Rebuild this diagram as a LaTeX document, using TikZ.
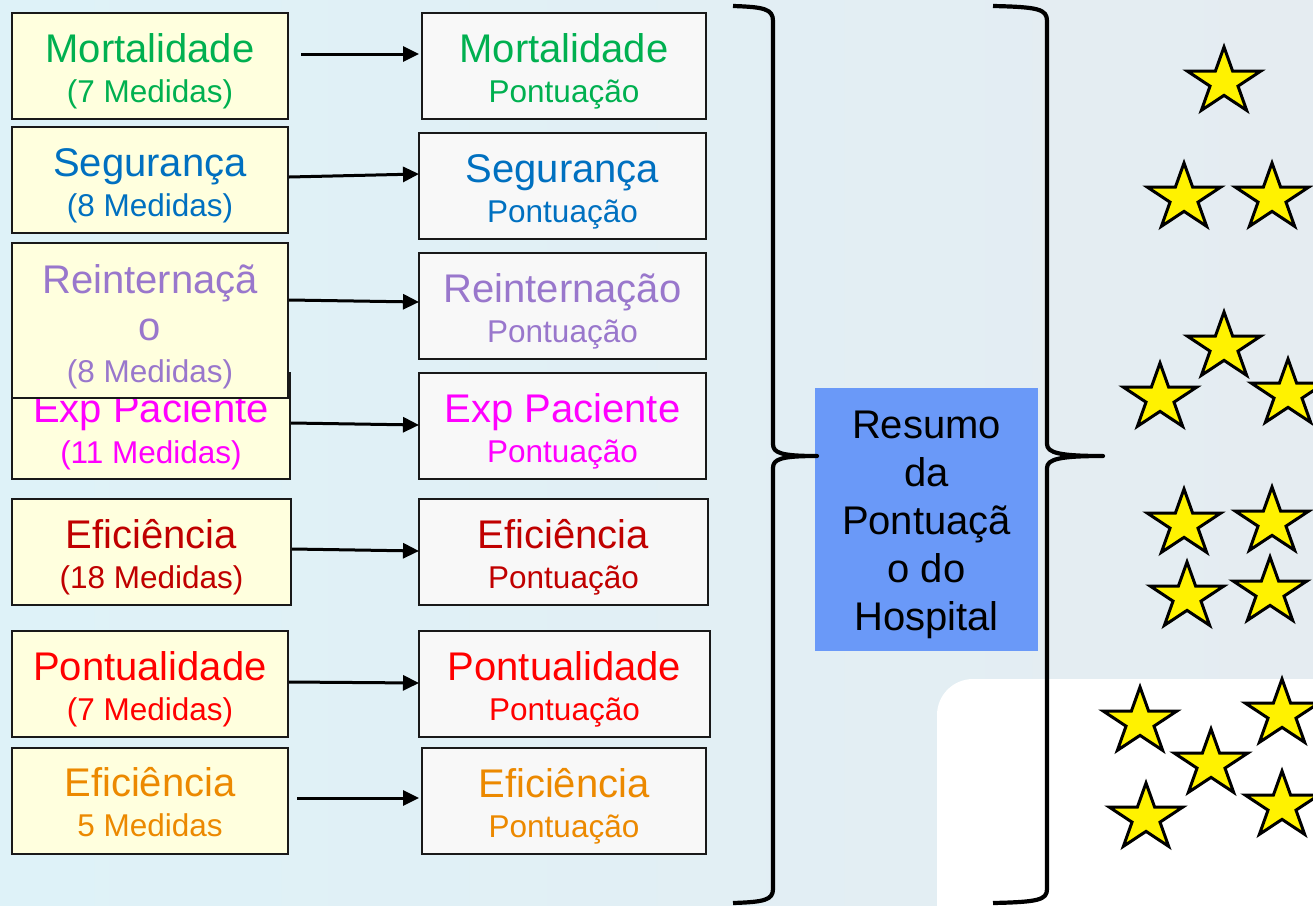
\documentclass[tikz,border=0pt]{standalone}
\usepackage{fontspec}
\setmainfont{Liberation Sans}
\usetikzlibrary{arrows.meta}
\definecolor{bgL}{RGB}{222,242,248}
\definecolor{bgR}{RGB}{229,236,241}
\definecolor{lyellow}{RGB}{255,255,222}
\definecolor{rwhite}{RGB}{248,248,248}
\definecolor{cgreen}{RGB}{0,176,80}
\definecolor{cblue}{RGB}{0,112,192}
\definecolor{cpurple}{RGB}{153,119,204}
\definecolor{cmagenta}{RGB}{255,0,255}
\definecolor{cdred}{RGB}{192,0,0}
\definecolor{cred}{RGB}{255,0,0}
\definecolor{corange}{RGB}{236,137,0}
\definecolor{cbluebox}{RGB}{106,153,248}
\tikzset{
  lbox/.style={draw=black!90, line width=2.2pt, fill=lyellow, inner sep=0pt},
  rbox/.style={draw=black!90, line width=2pt, fill=rwhite, inner sep=0pt},
  ttl/.style={font=\fontsize{40}{48}\selectfont, anchor=base, inner sep=0pt},
  sub/.style={font=\fontsize{31.5}{38}\selectfont, anchor=base, inner sep=0pt},
  arr/.style={line width=3pt, -{Triangle[length=16pt,width=15pt]}},
  bracestyle/.style={line width=4.2pt, line join=round},
  ystar/.pic={\filldraw[fill=yellow, draw=black, line width=3pt, line join=miter]
    (0,-35) -- (-8.65,-10.82) -- (-36.62,-10.82) -- (-13.99,4.13) -- (-22.63,28.32)
    -- (0,13.37) -- (22.63,28.32) -- (13.99,4.13) -- (36.62,-10.82) -- (8.65,-10.82) -- cycle;}
}
\begin{document}
\begin{tikzpicture}[x=1pt,y=-1pt]
\useasboundingbox (0,0) rectangle (1313,905);
\clip (0,0) rectangle (1313,905);
\shade[left color=bgL, right color=bgR] (0,0) rectangle (1313,905);
\fill[white, rounded corners=36pt] (937,679) rectangle (1380,980);

% left boxes
\node[lbox, minimum width=276, minimum height=106] (L1) at (150,66) {};
\node[lbox, minimum width=276, minimum height=106] (L2) at (150,180) {};
\node[lbox, minimum width=278, minimum height=106] (L4) at (151,426) {};
\node[ttl, text=cmagenta] (L4a) at (151,422) {Exp Paciente};
\node[sub, text=cmagenta] (L4b) at (151,463) {(11 Medidas)};
\node[lbox, minimum width=276, minimum height=155] (L3) at (150,320.5) {};
\node[lbox, minimum width=279, minimum height=106] (L5) at (151.5,552) {};
\node[lbox, minimum width=276, minimum height=106] (L6) at (150,684) {};
\node[lbox, minimum width=276, minimum height=106] (L7) at (150,801) {};

\node[ttl, text=cgreen] (L1a) at (150,62) {Mortalidade};
\node[sub, text=cgreen] (L1b) at (150,102) {(7 Medidas)};
\node[ttl, text=cblue] (L2a) at (150,176) {Segurança};
\node[sub, text=cblue] (L2b) at (150,216) {(8 Medidas)};
\node[ttl, text=cpurple] (L3a) at (150,293) {Reinternaçã};
\node[ttl, text=cpurple] (L3b) at (150,340) {o};
\node[sub, text=cpurple] (L3c) at (150,382) {(8 Medidas)};
\node[ttl, text=cdred] (L5a) at (151.5,548) {Eficiência};
\node[sub, text=cdred] (L5b) at (151.5,588) {(18 Medidas)};
\node[ttl, text=cred] (L6a) at (150,680) {Pontualidade};
\node[sub, text=cred] (L6b) at (150,720) {(7 Medidas)};
\node[ttl, text=corange] (L7a) at (150,796) {Eficiência};
\node[sub, text=corange] (L7b) at (150,836) {5 Medidas};

% right boxes
\node[rbox, minimum width=284, minimum height=106] (R1) at (564,66) {};
\node[rbox, minimum width=287, minimum height=106] (R2) at (562.5,186) {};
\node[rbox, minimum width=287, minimum height=106] (R3) at (562.5,306) {};
\node[rbox, minimum width=287, minimum height=106] (R4) at (562.5,426) {};
\node[rbox, minimum width=289, minimum height=106] (R5) at (563.5,552) {};
\node[rbox, minimum width=291, minimum height=106] (R6) at (564.5,684) {};
\node[rbox, minimum width=284, minimum height=106] (R7) at (564,801) {};

\node[ttl, text=cgreen] (R1a) at (564,62) {Mortalidade};
\node[sub, text=cgreen] (R1b) at (564,102) {Pontuação};
\node[ttl, text=cblue] (R2a) at (562.5,182) {Segurança};
\node[sub, text=cblue] (R2b) at (562.5,222) {Pontuação};
\node[ttl, text=cpurple] (R3a) at (562.5,302) {Reinternação};
\node[sub, text=cpurple] (R3b) at (562.5,342) {Pontuação};
\node[ttl, text=cmagenta] (R4a) at (562.5,422) {Exp Paciente};
\node[sub, text=cmagenta] (R4b) at (562.5,462) {Pontuação};
\node[ttl, text=cdred] (R5a) at (563.5,548) {Eficiência};
\node[sub, text=cdred] (R5b) at (563.5,588) {Pontuação};
\node[ttl, text=cred] (R6a) at (564.5,680) {Pontualidade};
\node[sub, text=cred] (R6b) at (564.5,720) {Pontuação};
\node[ttl, text=corange] (R7a) at (564,797) {Eficiência};
\node[sub, text=corange] (R7b) at (564,837) {Pontuação};

% arrows
\draw[arr] ([shift={(12,-12)}]L1.east) -- ([shift={(-2,-12)}]R1.west);
\draw[arr] ([shift={(0,-3)}]L2.east) -- ([shift={(1,-12)}]R2.west);
\draw[arr] ([shift={(0,-20.5)}]L3.east) -- ([shift={(1,-4)}]R3.west);
\draw[arr] ([shift={(0,-3)}]L4.east) -- ([shift={(1,-1)}]R4.west);
\draw[arr] ([shift={(0,-3)}]L5.east) -- ([shift={(1,-1)}]R5.west);
\draw[arr] ([shift={(0,-2)}]L6.east) -- ([shift={(1,-1)}]R6.west);
\draw[arr] ([shift={(8,-3)}]L7.east) -- ([shift={(-2,-3)}]R7.west);

% blue summary box
\node[fill=cbluebox, minimum width=223, minimum height=263, inner sep=0pt] (B) at (926.5,519.5) {};
\node[ttl] (B1) at (926.5,438) {Resumo};
\node[ttl] (B2) at (926.5,486) {da};
\node[ttl] (B3) at (926.5,534) {Pontuaçã};
\node[ttl] (B4) at (926.5,582) {o do};
\node[ttl] (B5) at (926.5,630) {Hospital};

% braces
\draw[bracestyle] (733,6) .. controls (764,7) and (773,9) .. (773,21) -- (773,444)
  .. controls (773,453) and (781,456) .. (817,456)
  .. controls (781,456) and (773,459) .. (773,468) -- (773,889)
  .. controls (773,900) and (764,902) .. (733,903);
\draw[bracestyle] (993,6) .. controls (1038,7) and (1047,9) .. (1047,21) -- (1047,444)
  .. controls (1047,453) and (1060,456) .. (1103,456)
  .. controls (1060,456) and (1047,459) .. (1047,468) -- (1047,889)
  .. controls (1047,900) and (1038,902) .. (993,903);

% stars
\pic at (1224,82) {ystar};
\pic at (1184,198) {ystar};
\pic at (1272,198) {ystar};
\pic at (1224,347) {ystar};
\pic at (1160,398) {ystar};
\pic at (1288,394) {ystar};
\pic at (1184,524) {ystar};
\pic at (1272,522) {ystar};
\pic at (1187,597) {ystar};
\pic at (1270,592) {ystar};
\pic at (1140,722) {ystar};
\pic at (1282,714) {ystar};
\pic at (1211,764) {ystar};
\pic at (1146,818) {ystar};
\pic at (1282,806) {ystar};
\end{tikzpicture}
\end{document}
